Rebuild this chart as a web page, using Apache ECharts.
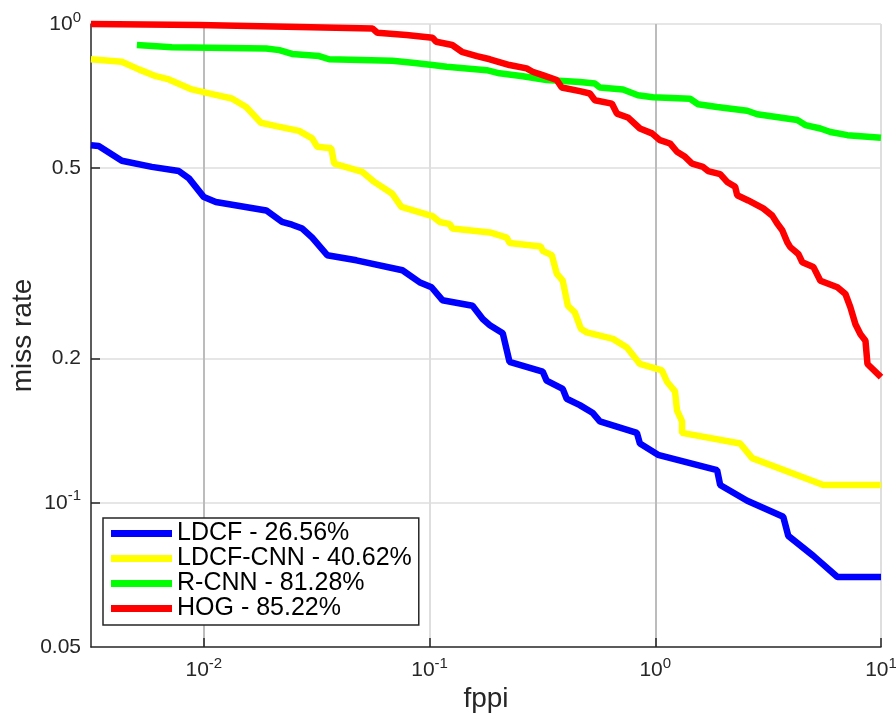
<!DOCTYPE html>
<html><head><meta charset="utf-8">
<script src="https://cdn.jsdelivr.net/npm/echarts@6/dist/echarts.min.js"></script>
<style>html,body{margin:0;padding:0;background:#fff}#c{width:896px;height:713px}</style>
</head><body><div id="c"></div>
<script>
const seriesNames = ['LDCF - 26.56%', 'LDCF-CNN - 40.62%', 'R-CNN - 81.28%', 'HOG - 85.22%'];
const seriesColors = ['#0000ff', '#ffff00', '#00ff00', '#ff0000'];

const ldcfFppi = [0.00316,0.00342,0.00433,0.00588,0.00775,0.00859,0.0100,0.0113,0.0189,0.0222,0.0246,0.0273,0.0302,0.0352,0.0474,0.0758,0.0902,0.102,0.114,0.155,0.172,0.185,0.211,0.226,0.317,0.330,0.389,0.405,0.463,0.529,0.568,0.829,0.855,1.028,1.879,1.938,2.554,3.690,3.884,5.015,6.41,10];
const ldcfMiss = [0.558,0.556,0.518,0.503,0.493,0.476,0.435,0.425,0.408,0.386,0.381,0.374,0.358,0.329,0.321,0.306,0.289,0.282,0.265,0.258,0.242,0.235,0.226,0.197,0.188,0.180,0.173,0.165,0.160,0.154,0.148,0.140,0.133,0.126,0.117,0.109,0.101,0.0935,0.0853,0.0775,0.0700,0.0700];

const ldcfCnnFppi = [0.00316,0.00433,0.00515,0.00613,0.00700,0.00885,0.0109,0.0133,0.0154,0.0179,0.0209,0.0264,0.0302,0.0318,0.0367,0.0378,0.0504,0.0569,0.0684,0.0750,0.103,0.111,0.123,0.126,0.185,0.220,0.226,0.311,0.317,0.348,0.366,0.389,0.410,0.440,0.468,0.497,0.649,0.749,0.855,1.071,1.127,1.223,1.248,1.314,1.314,2.377,2.688,5.554,10];
const ldcfCnnMiss = [0.844,0.834,0.804,0.778,0.766,0.730,0.714,0.699,0.671,0.622,0.612,0.598,0.577,0.554,0.550,0.511,0.491,0.468,0.442,0.415,0.397,0.386,0.382,0.374,0.367,0.358,0.349,0.343,0.336,0.329,0.301,0.291,0.258,0.250,0.231,0.227,0.220,0.211,0.195,0.189,0.179,0.171,0.156,0.148,0.140,0.133,0.124,0.109,0.109];

const rcnnFppi = [0.00505,0.00722,0.0189,0.0216,0.0246,0.0324,0.0359,0.0684,0.0840,0.103,0.119,0.179,0.204,0.259,0.330,0.463,0.540,0.568,0.719,0.838,0.977,1.426,1.547,1.879,2.554,2.829,4.258,4.62,5.387,5.968,7.099,10];
const rcnnMiss = [0.904,0.894,0.889,0.882,0.866,0.857,0.844,0.838,0.830,0.821,0.814,0.801,0.789,0.778,0.764,0.757,0.751,0.737,0.730,0.710,0.703,0.698,0.680,0.671,0.659,0.648,0.630,0.615,0.605,0.595,0.586,0.579];

const hogFppi = [0.00316,0.00951,0.0264,0.0558,0.0587,0.0790,0.103,0.107,0.126,0.139,0.162,0.185,0.226,0.269,0.286,0.317,0.366,0.385,0.463,0.513,0.540,0.642,0.676,0.756,0.855,0.967,1.049,1.162,1.248,1.355,1.455,1.628,1.714,1.938,2.082,2.259,2.306,2.580,3.008,3.298,3.47,3.652,3.844,3.963,4.302,4.481,5.015,5.387,6.41,6.958,7.32,7.705,8.11,8.535,8.71,10];
const hogMiss = [1.0,0.995,0.986,0.979,0.959,0.948,0.936,0.918,0.904,0.875,0.857,0.844,0.821,0.808,0.795,0.782,0.764,0.737,0.724,0.716,0.693,0.682,0.650,0.638,0.605,0.591,0.572,0.563,0.541,0.528,0.511,0.503,0.493,0.486,0.468,0.457,0.439,0.428,0.412,0.398,0.383,0.371,0.350,0.342,0.331,0.318,0.311,0.291,0.282,0.273,0.256,0.236,0.225,0.218,0.195,0.183];

const xRange = [0.0031623, 10];
const yRange = [0.05, 1];
const xTickValues = [0.01, 0.1, 1, 10];
const xTickLabels = ['10^-2', '10^-1', '10^0', '10^1'];
const yTickValues = [0.05, 0.1, 0.2, 0.5, 1];
const yTickLabels = ['0.05', '10^-1', '0.2', '0.5', '10^0'];
const yGridValues = [0.1, 0.2, 0.5, 1];

const FONT = 'Liberation Sans';
const lg = Math.log10;

function makeFormatter(values, labels) {
  return function (v) {
    for (let i = 0; i < values.length; i++) {
      if (Math.abs(lg(values[i]) - v) < 1e-6) {
        const s = labels[i];
        const p = s.indexOf('^');
        return p < 0 ? '{b|' + s + '}' : '{b|' + s.slice(0, p) + '}{s|' + s.slice(p + 1) + '}';
      }
    }
    return '';
  };
}
const rich = {
  b: { fontSize: 21, lineHeight: 28, color: '#262626', fontFamily: FONT },
  s: { fontSize: 15, lineHeight: 15, verticalAlign: 'top', color: '#262626', fontFamily: FONT }
};

function pairs(xs, ys) { return xs.map((x, i) => [lg(x), lg(ys[i])]); }
const allData = [pairs(ldcfFppi, ldcfMiss), pairs(ldcfCnnFppi, ldcfCnnMiss), pairs(rcnnFppi, rcnnMiss), pairs(hogFppi, hogMiss)];

const chart = echarts.init(document.getElementById('c'));
chart.setOption({
  animation: false,
  backgroundColor: '#fff',
  grid: { left: 91, right: 15, top: 24, bottom: 66, containLabel: false, outerBoundsMode: 'none' },
  xAxis: {
    type: 'value', min: lg(xRange[0]), max: lg(xRange[1]),
    name: 'fppi', nameLocation: 'middle', nameGap: 33,
    nameTextStyle: { fontSize: 28, color: '#262626', fontFamily: FONT },
    axisLine: { show: true, onZero: false, lineStyle: { color: '#262626', width: 1.5 } },
    axisTick: { show: true, inside: true, length: 9, customValues: xTickValues.map(lg), lineStyle: { color: '#262626', width: 1.5 } },
    axisLabel: { customValues: xTickValues.map(lg), formatter: makeFormatter(xTickValues, xTickLabels), rich: rich, margin: 9 },
    splitLine: { show: true, lineStyle: { color: ['#bcbcbc', '#dedede', '#bcbcbc', '#dedede'], width: 2 } }
  },
  yAxis: {
    type: 'value', min: lg(yRange[0]), max: lg(yRange[1]),
    name: 'miss rate', nameLocation: 'middle', nameGap: 54, nameRotate: 90, nameMoveOverlap: false,
    nameTextStyle: { fontSize: 28, color: '#262626', fontFamily: FONT },
    axisLine: { show: true, onZero: false, lineStyle: { color: '#262626', width: 1.5 } },
    axisTick: { show: true, inside: true, length: 9, customValues: yGridValues.map(lg), lineStyle: { color: '#262626', width: 1.5 } },
    axisLabel: { customValues: yTickValues.map(lg), formatter: makeFormatter(yTickValues, yTickLabels), rich: rich, margin: 10 },
    splitLine: { show: true, lineStyle: { color: '#dedede', width: 1.5 } }
  },
  legend: {
    show: true, orient: 'vertical', left: 103, top: 518,
    data: seriesNames, icon: 'rect', itemWidth: 61, itemHeight: 7, itemGap: 0,
    borderColor: '#262626', borderWidth: 1.5, backgroundColor: '#fff',
    padding: [3, 7, 4, 8],
    textStyle: { fontSize: 25, lineHeight: 24, color: '#000', fontFamily: FONT }
  },
  series: seriesNames.map((n, i) => ({
    type: 'line', name: n, data: allData[i], showSymbol: false, symbol: 'none', clip: false,
    lineStyle: { width: 6.5, color: seriesColors[i] }, itemStyle: { color: seriesColors[i] }
  }))
});
</script></body></html>
